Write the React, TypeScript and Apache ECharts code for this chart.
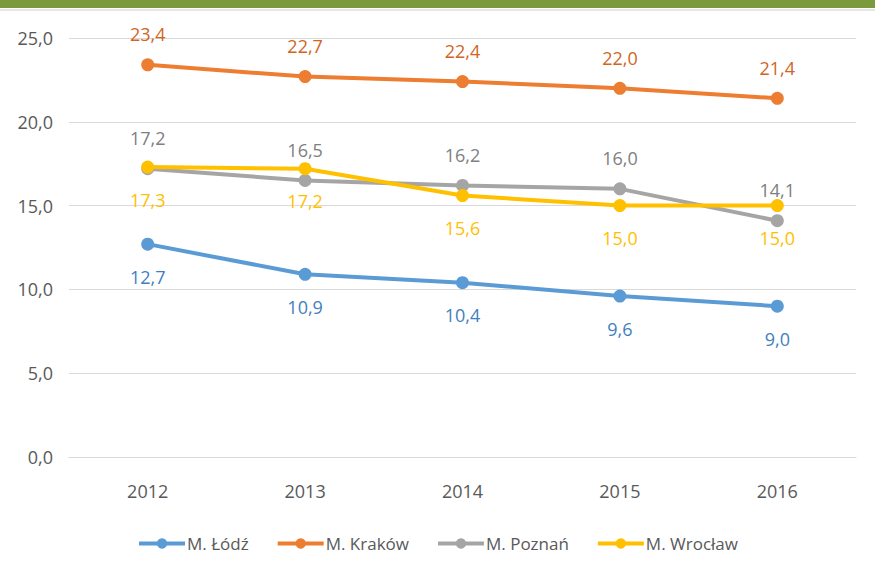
import React, { useEffect, useRef } from "react";
import * as echarts from "echarts";

const years = ["2012", "2013", "2014", "2015", "2016"];
const lodz = [12.7, 10.9, 10.4, 9.6, 9.0];
const krakow = [23.4, 22.7, 22.4, 22.0, 21.4];
const poznan = [17.2, 16.5, 16.2, 16.0, 14.1];
const wroclaw = [17.3, 17.2, 15.6, 15.0, 15.0];

const FONT = "'Open Sans', sans-serif";
const fmt = (v: number) => v.toFixed(1).replace(".", ",");

export default function App() {
  const ref = useRef<HTMLDivElement>(null);
  useEffect(() => {
    if (!ref.current) return;
    const chart = echarts.init(ref.current, undefined, { renderer: "svg" });
    const mk = (name: string, data: number[], color: string, labelColor: string, pos: "top" | "bottom") => ({
      name,
      type: "line",
      data,
      symbol: "circle",
      symbolSize: 13,
      lineStyle: { width: 4, color },
      itemStyle: { color },
      label: {
        show: true,
        position: pos,
        distance: pos === "top" ? 15 : 17,
        color: labelColor,
        fontSize: 18,
        fontFamily: FONT,
        formatter: (p: any) => fmt(p.value),
      },
    });
    chart.setOption({
      animation: false,
      backgroundColor: "#ffffff",
      graphic: [
        { type: "rect", left: 0, top: 0, shape: { width: 875, height: 8 }, style: { fill: "#7a9a3c" } },
        { type: "rect", left: 0, top: 9, shape: { width: 875, height: 2 }, style: { fill: "#e6e6e6" } },
      ],
      grid: { left: 69, right: 19, top: 38, bottom: 122 },
      legend: {
        bottom: 22,
        left: "center",
        itemWidth: 46,
        itemHeight: 13,
        itemGap: 27,
        lineStyle: { width: 4 },
        textStyle: { color: "#595959", fontSize: 17, fontFamily: FONT, padding: [0, 0, 0, -3] },
        data: ["M. Łódź", "M. Kraków", "M. Poznań", "M. Wrocław"],
      },
      xAxis: {
        type: "category",
        data: years,
        boundaryGap: true,
        axisLine: { show: true, lineStyle: { color: "#d9d9d9" } },
        axisTick: { show: false },
        axisLabel: { color: "#595959", fontSize: 18, fontFamily: FONT, margin: 25 },
      },
      yAxis: {
        type: "value",
        min: 0,
        max: 25,
        interval: 5,
        axisLine: { show: false },
        axisTick: { show: false },
        splitLine: { lineStyle: { color: "#d9d9d9", width: 1 } },
        axisLabel: { color: "#595959", fontSize: 18, fontFamily: FONT, margin: 16, formatter: (v: number) => fmt(v) },
      },
      series: [
        mk("M. Łódź", lodz, "#5b9bd5", "#3f7fc0", "bottom"),
        mk("M. Kraków", krakow, "#ed7d31", "#d0651f", "top"),
        mk("M. Poznań", poznan, "#a5a5a5", "#808080", "top"),
        mk("M. Wrocław", wroclaw, "#ffc000", "#ffc000", "bottom"),
      ],
    });
    return () => chart.dispose();
  }, []);
  return <div ref={ref} style={{ position: "absolute", left: 0, top: 0, width: 875, height: 579 }} />;
}
